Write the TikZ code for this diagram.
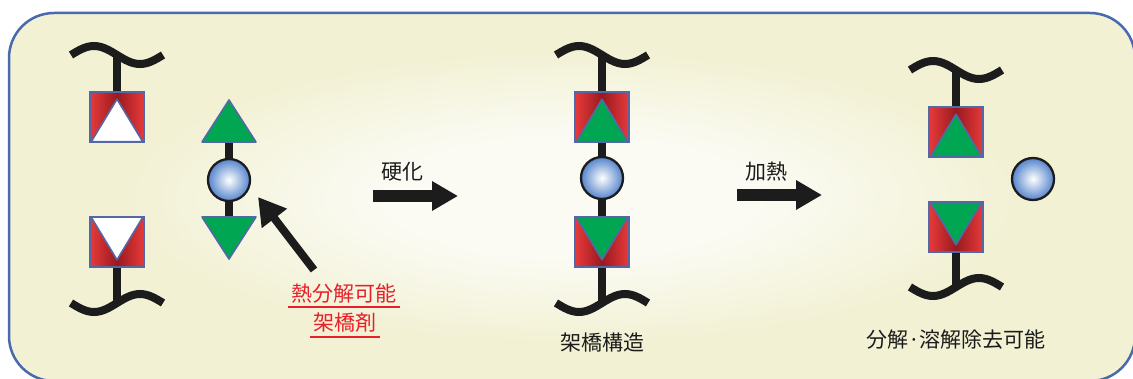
\documentclass[tikz,border=0pt]{standalone}
\usepackage{fontspec}
\newfontfamily\jp{Noto Sans CJK JP}
\usetikzlibrary{arrows.meta,calc}
\definecolor{frameblue}{HTML}{4A6AAE}
\definecolor{bgout}{HTML}{F2F1D4}
\definecolor{bgin}{HTML}{FBFBF4}
\definecolor{redlight}{HTML}{E83A3A}
\definecolor{reddark}{HTML}{981A1F}
\definecolor{tgreen}{HTML}{00A651}
\definecolor{edgeblue}{HTML}{5468A8}
\definecolor{ballblue}{HTML}{5584CC}
\definecolor{ink}{HTML}{1C1C1C}
\definecolor{labelred}{HTML}{E8202A}
\pgfdeclareradialshading{bgglow}{\pgfpointorigin}{color(0bp)=(bgin); color(8bp)=(bgin); color(20bp)=(bgout); color(50bp)=(bgout)}
\pgfdeclareradialshading{beadshade}{\pgfpointorigin}{color(0bp)=(white); color(25bp)=(ballblue); color(50bp)=(ballblue)}
\tikzset{
  sqbox/.style={rectangle, minimum width=54pt, minimum height=50pt, inner sep=0pt, draw=edgeblue, line width=1.6pt, left color=redlight, right color=redlight, middle color=reddark},
  bead/.style={circle, minimum size=42pt, inner sep=0pt, draw=ink, line width=2.3pt, shade, shading=beadshade},
  tri/.style={draw=edgeblue, line width=1.6pt, line join=round},
  stem/.style={draw=ink, line width=8pt},
  wave/.style={draw=ink, line width=8pt},
  bigarrow/.style={draw=ink, line width=12pt, -{Triangle[length=26pt,width=28pt]}},
  lbl/.style={font=\jp\fontsize{21}{24}\selectfont, text=ink, inner sep=0pt, text height=18.5pt, text depth=2.5pt},
  redlbl/.style={font=\jp\fontsize{21}{24}\selectfont, text=labelred, inner xsep=3pt, inner ysep=0pt, text height=18.5pt, text depth=2.5pt},
  uline/.style={color=labelred, line width=1.6pt},
}
\newcommand\upwave[1]{\draw[wave, shift={(#1)}] (-46,0) sin (-23,-9) cos (0,0) sin (23,9) cos (46,0);}
\newcommand\lowwave[1]{\draw[wave, shift={(#1)}] (-46,0) sin (-23,9) cos (0,0) sin (23,-9) cos (46,0);}
\newcommand\uptri[2]{\filldraw[tri, fill=#2] ($(#1.south west)+(2,-1)$) -- ($(#1.south east)+(-2,-1)$) -- ($(#1.north)+(0,8)$) -- cycle;}
\newcommand\downtri[2]{\filldraw[tri, fill=#2] ($(#1.north west)+(2,1)$) -- ($(#1.north east)+(-2,1)$) -- ($(#1.south)+(0,-8)$) -- cycle;}
\begin{document}
\begin{tikzpicture}[x=1pt,y=-1pt]
\useasboundingbox (0,0) rectangle (1133,379);
\fill[white] (0,0) rectangle (1133,379);
\path[shade, shading=bgglow, draw=frameblue, line width=2.5pt, rounded corners=45pt] (9,13) rectangle (1135,381);

% ---------- left column ----------
\coordinate (wA) at (117,55);
\coordinate (wA2) at (117,303);
\upwave{wA}
\lowwave{wA2}
\node[sqbox] (A1) at (117,117) {};
\node[sqbox] (A2) at (117,242) {};
\draw[stem] (wA) -- (A1.north);
\draw[stem] (A2.south) -- (wA2);
\uptri{A1}{white}
\downtri{A2}{white}

% ---------- crosslinker ----------
\node[bead] (X) at (229,180) {};
\coordinate (Xt) at (229,142);
\coordinate (Xb) at (229,217);
\draw[stem] (Xt) -- (X.north);
\draw[stem] (X.south) -- (Xb);
\filldraw[tri, fill=tgreen] ($(Xt)+(-27,0)$) -- ($(Xt)+(27,0)$) -- ($(Xt)+(0,-42)$) -- cycle;
\filldraw[tri, fill=tgreen] ($(Xb)+(-27,0)$) -- ($(Xb)+(27,0)$) -- ($(Xb)+(0,42)$) -- cycle;

% pointer arrow and red label
\coordinate (arT) at (314,270);
\coordinate (arH) at (258,197);
\draw[draw=ink, line width=8pt, -{Triangle[length=27pt,width=30pt]}] (arT) -- (arH);
\node[redlbl] (r1) at (344,294) {熱分解可能};
\node[redlbl] (r2) at (345,323) {架橋剤};
\draw[uline] ($(r1.south west)+(0,2.5)$) -- ($(r1.south east)+(0,2.5)$);
\draw[uline] ($(r2.south west)+(0,3.5)$) -- ($(r2.south east)+(0,3.5)$);

% ---------- arrow 1 ----------
\node[lbl] (t1) at (402,172) {硬化};
\coordinate (a1s) at (373,196);
\coordinate (a1e) at (458,196);
\draw[bigarrow] (a1s) -- (a1e);

% ---------- middle column ----------
\coordinate (wB) at (602,55);
\coordinate (wB2) at (602,303);
\upwave{wB}
\lowwave{wB2}
\node[sqbox] (B1) at (602,117) {};
\node[bead] (B) at (602,178) {};
\node[sqbox] (B2) at (602,242) {};
\draw[stem] (wB) -- (B1.north);
\draw[stem] (B1.south) -- (B.north);
\draw[stem] (B.south) -- (B2.north);
\draw[stem] (B2.south) -- (wB2);
\uptri{B1}{tgreen}
\downtri{B2}{tgreen}
\node[lbl] (t3) at (602,343) {架橋構造};

% ---------- arrow 2 ----------
\node[lbl] (t2) at (766,172) {加熱};
\coordinate (a2s) at (737,195);
\coordinate (a2e) at (822,195);
\draw[bigarrow] (a2s) -- (a2e);

% ---------- right column ----------
\coordinate (wC) at (956,70);
\coordinate (wC2) at (956,287);
\upwave{wC}
\lowwave{wC2}
\node[sqbox] (C1) at (956,132) {};
\node[sqbox] (C2) at (956,227) {};
\draw[stem] (wC) -- (C1.north);
\draw[stem] (C2.south) -- (wC2);
\uptri{C1}{tgreen}
\downtri{C2}{tgreen}
\node[bead] (Cb) at (1033,179) {};
\node[lbl] (t4) at (956,340) {分解·溶解除去可能};
\end{tikzpicture}
\end{document}
